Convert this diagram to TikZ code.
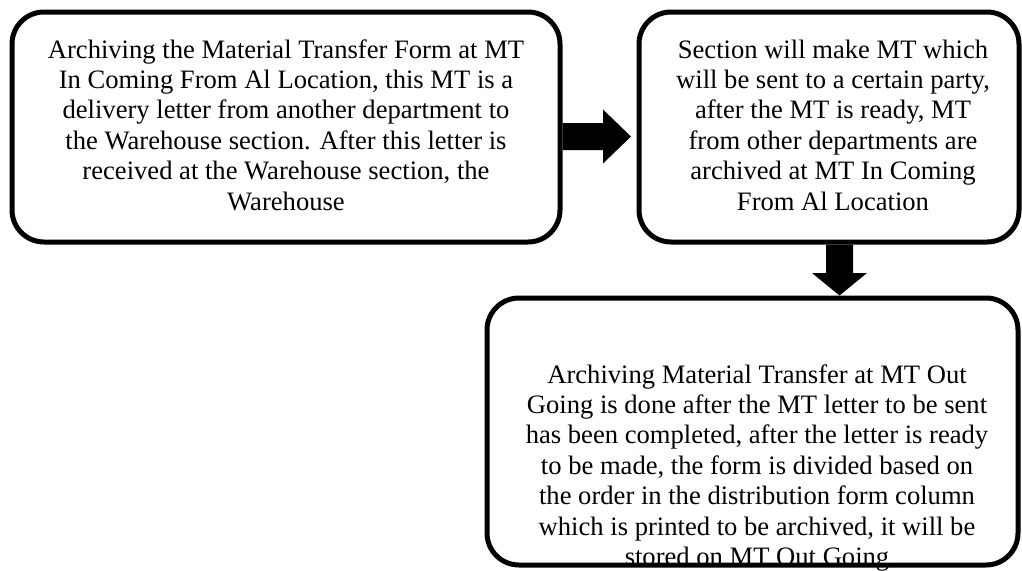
\documentclass[tikz,border=0pt]{standalone}
\usepackage{fontspec}
\setmainfont{Liberation Serif}
\begin{document}
\begin{tikzpicture}[x=1pt,y=1pt,
  box/.style={draw=black, line width=5pt, rounded corners=32pt, inner sep=0pt},
  txt/.style={inner sep=0pt, anchor=base, text=black},
  blockarrow/.style={fill=black}]
\newcommand{\boxtext}[2]{\parbox[t]{#1}{\centering\fontsize{26.6pt}{30.4pt}\selectfont #2}}
\useasboundingbox (0,0) rectangle (1022,-570);

% texts, set first so the frames are drawn over them
\node[txt] (t1) at (286,-58) {\boxtext{540pt}{Archiving the Material Transfer Form at MT\\
In Coming From Al Location, this MT is a\\
delivery letter from another department to\\
the Warehouse section. After this letter is\\
received at the Warehouse section, the\\
Warehouse}};
\node[txt] (t2) at (833,-58) {\boxtext{370pt}{Section will make MT which\\
will be sent to a certain party,\\
after the MT is ready, MT\\
from other departments are\\
archived at MT In Coming\\
From Al Location}};
\node[txt] (t3) at (757,-383) {\boxtext{520pt}{Archiving Material Transfer at MT Out\\
Going is done after the MT letter to be sent\\
has been completed, after the letter is ready\\
to be made, the form is divided based on\\
the order in the distribution form column\\
which is printed to be archived, it will be\\
stored on MT Out Going}};

% frames
\node[box, minimum width=548pt, minimum height=230pt] (b1) at (286,-127) {};
\node[box, minimum width=380pt, minimum height=230pt] (b2) at (829,-127) {};
\node[box, minimum width=531pt, minimum height=267pt] (b3) at (752.5,-431.5) {};

% block arrow from the first box to the second
\coordinate (ra) at ([yshift=-9.5pt]b1.east);
\coordinate (ta) at ([xshift=-5.5pt,yshift=-9.5pt]b2.west);
\fill[blockarrow] (ra) ++(0,13.5) -- ++(40.5,0) -- ++(0,13.5) -- (ta)
  -- ++(-28,-27) -- ++(0,13.5) -- ++(-40.5,0) -- cycle;

% block arrow from the second box down to the third
\coordinate (da) at ([xshift=10.5pt]b2.south);
\coordinate (tb) at ([xshift=87pt]b3.north);
\fill[blockarrow] (da) ++(-13.5,0) -- ++(0,-28.5) -- ++(-14,0) -- (tb)
  -- ++(27.5,22.5) -- ++(-14,0) -- ++(0,28.5) -- cycle;
\end{tikzpicture}
\end{document}
